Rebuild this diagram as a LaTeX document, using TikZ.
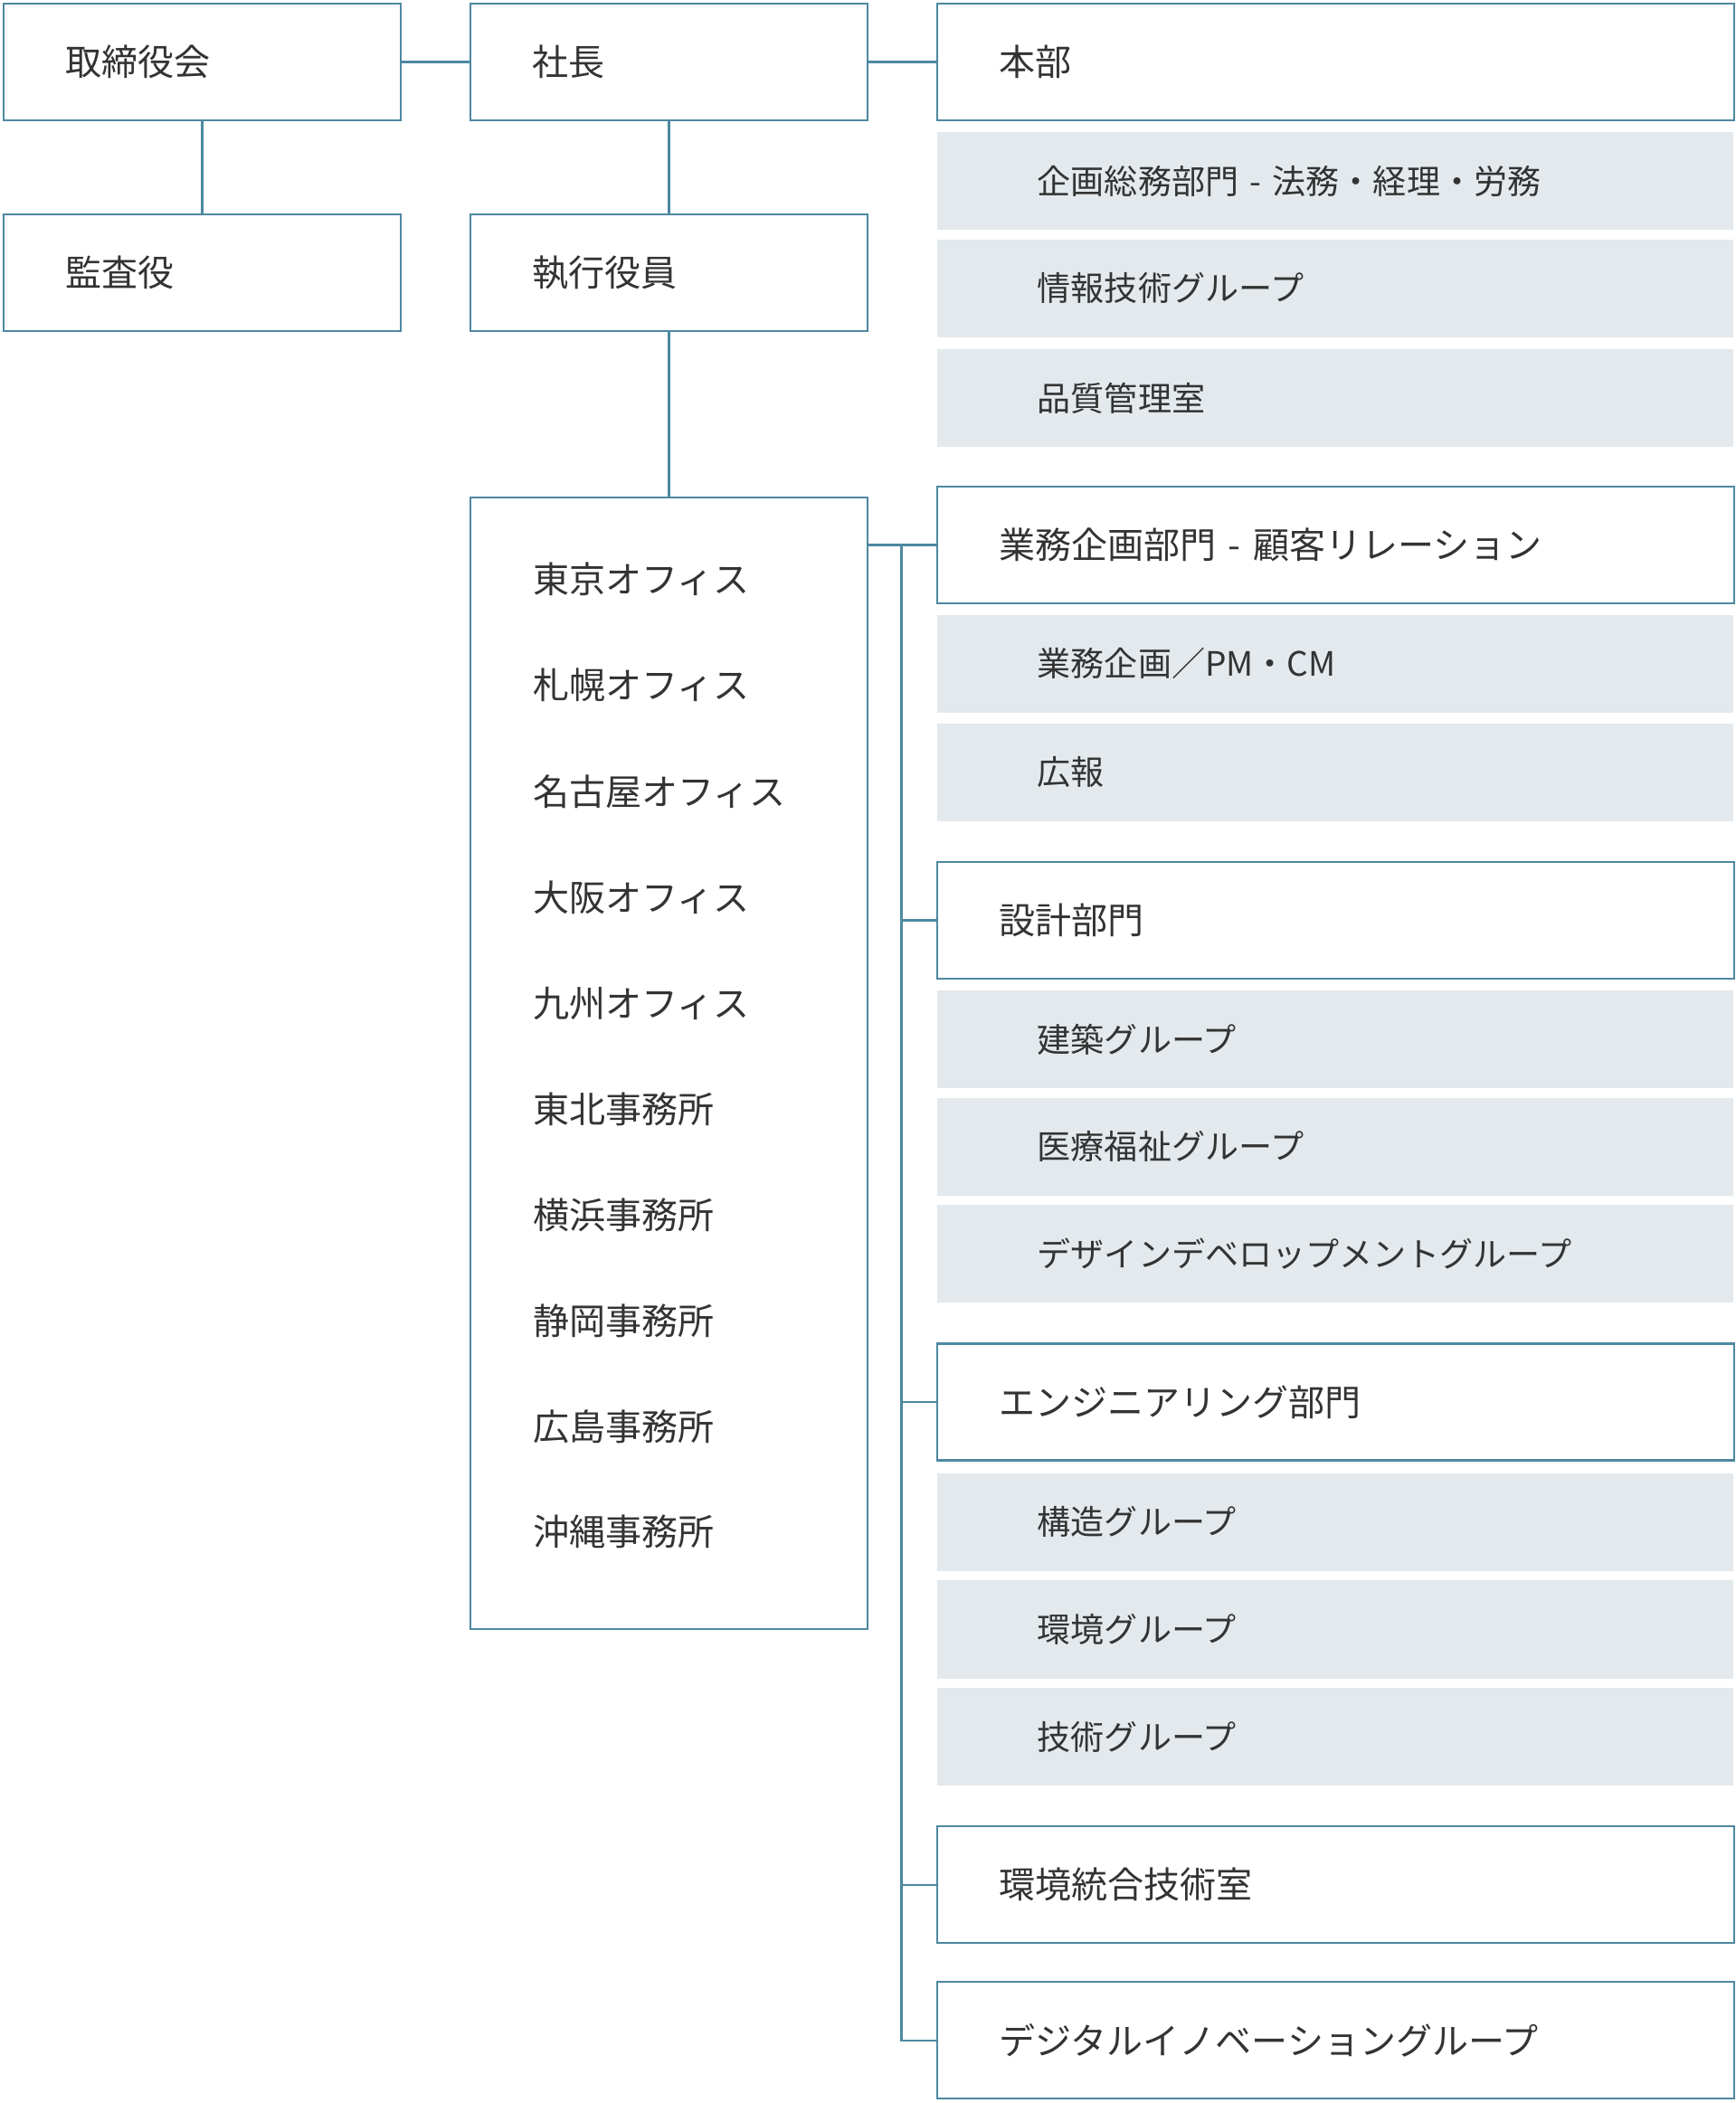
\documentclass[tikz,border=0pt]{standalone}
\usepackage{fontspec}
\setmainfont{Noto Sans CJK JP}
\definecolor{linec}{HTML}{4D88A0}
\definecolor{grayc}{HTML}{E3E9EC}
\definecolor{textc}{HTML}{333333}
\tikzset{
  box/.style={draw=linec, line width=0.8pt, anchor=north west, minimum width=148pt,
    minimum height=43.5pt, inner xsep=23pt, text width=102pt, align=left,
    text=textc, font=\fontsize{13.5}{15}\selectfont},
  wide/.style={box, minimum width=297pt, text width=251pt},
  sub/.style={fill=grayc, anchor=north west, minimum width=297pt, minimum height=36.5pt,
    inner xsep=37.5pt, text width=222pt, align=left, text=textc,
    font=\fontsize{12.5}{14}\selectfont},
  office/.style={anchor=west, text=textc, inner sep=0pt, font=\fontsize{13.5}{15}\selectfont},
  conn/.style={draw=linec, line width=0.8pt}
}
\begin{document}
\begin{tikzpicture}[x=0.5pt,y=-0.5pt]
\useasboundingbox (0,0) rectangle (1294,1568);

% top row
\node[box] (board) at (2,2) {取締役会};
\node[box] (pres) at (350,2) {社長};
\node[wide] (hq) at (698,2) {本部};
\node[box] (audit) at (2,159) {監査役};
\node[box] (exec) at (350,159) {執行役員};

% headquarters
\node[sub] (hq1) at (698,98) {企画総務部門 - 法務・経理・労務};
\node[sub] (hq2) at (698,178) {情報技術グループ};
\node[sub] (hq3) at (698,260) {品質管理室};

% offices
\node[draw=linec, line width=0.8pt, anchor=north west, minimum width=148pt,
  minimum height=422pt, inner sep=0pt] (offices) at (350,370) {};
\node[office] (of1) at (397,432) {東京オフィス};
\node[office] (of2) at (397,511) {札幌オフィス};
\node[office] (of3) at (397,590) {名古屋オフィス};
\node[office] (of4) at (397,669) {大阪オフィス};
\node[office] (of5) at (397,748) {九州オフィス};
\node[office] (of6) at (397,827) {東北事務所};
\node[office] (of7) at (397,906) {横浜事務所};
\node[office] (of8) at (397,985) {静岡事務所};
\node[office] (of9) at (397,1064) {広島事務所};
\node[office] (of10) at (397,1142) {沖縄事務所};

% divisions
\node[wide] (biz) at (698,362) {業務企画部門 - 顧客リレーション};
\node[sub] (biz1) at (698,458) {業務企画／PM・CM};
\node[sub] (biz2) at (698,539) {広報};

\node[wide] (design) at (698,642) {設計部門};
\node[sub] (des1) at (698,738) {建築グループ};
\node[sub] (des2) at (698,818) {医療福祉グループ};
\node[sub] (des3) at (698,898) {デザインデベロップメントグループ};

\node[wide] (eng) at (698,1001) {エンジニアリング部門};
\node[sub] (eng1) at (698,1098) {構造グループ};
\node[sub] (eng2) at (698,1178) {環境グループ};
\node[sub] (eng3) at (698,1258) {技術グループ};

\node[wide] (env) at (698,1361) {環境統合技術室};
\node[wide] (dig) at (698,1477) {デジタルイノベーショングループ};

% connectors
\draw[conn] (board.east) -- (pres.west);
\draw[conn] (pres.east) -- (hq.west);
\draw[conn] (board.south) -- (audit.north);
\draw[conn] (pres.south) -- (exec.north);
\draw[conn] (exec.south) -- (offices.north);
\coordinate (trunk) at (672,406);
\draw[conn] (offices.east |- biz.west) -- (biz.west);
\draw[conn] (trunk) -- (trunk |- dig.west) -- (dig.west);
\draw[conn] (trunk |- design.west) -- (design.west);
\draw[conn] (trunk |- eng.west) -- (eng.west);
\draw[conn] (trunk |- env.west) -- (env.west);
\end{tikzpicture}
\end{document}
